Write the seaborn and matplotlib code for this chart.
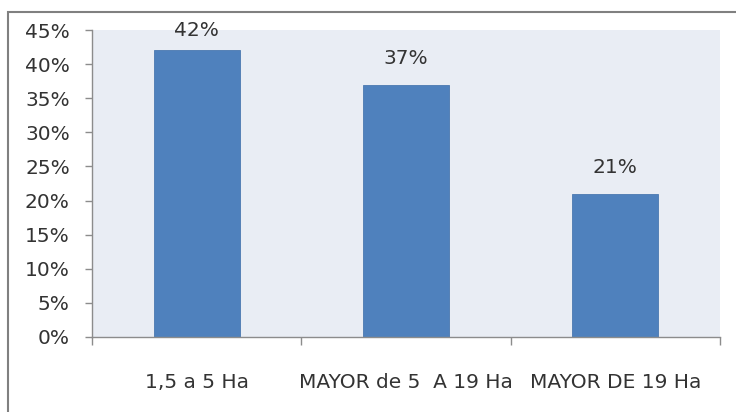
import matplotlib
matplotlib.use("Agg")
import matplotlib.pyplot as plt
import seaborn as sns
import pandas as pd
from matplotlib.patches import Rectangle

categories = ["1,5 a 5 Ha", "MAYOR de 5  A 19 Ha", "MAYOR DE 19 Ha"]
values = [42, 37, 21]
y_ticks = [0, 5, 10, 15, 20, 25, 30, 35, 40, 45]

df = pd.DataFrame({"categoria": categories, "porcentaje": values})

sns.set_theme(style="white")
plt.rcParams["font.family"] = ["DejaVu Sans"]

BAR = "#4f81bd"
PLOT_BG = "#e9edf4"
AXIS = "#8c8c8c"
TEXT = "#333333"
FS = 14.5

fig = plt.figure(figsize=(7.36, 4.12), dpi=100)
fig.patch.set_facecolor("white")
ax = fig.add_axes([92 / 736, 1 - 337 / 412, (720 - 92) / 736, (337 - 30) / 412])
ax.set_facecolor(PLOT_BG)

sns.barplot(data=df, x="categoria", y="porcentaje", color=BAR, width=0.41,
            saturation=1, ax=ax, edgecolor="#4a78b0", linewidth=0.6)

ax.set_xlim(-0.5, len(categories) - 0.5)
ax.set_ylim(0, 45)
ax.set_yticks(y_ticks)
ax.set_yticklabels([f"{t}%" for t in y_ticks])

# category boundaries carry the tick marks, labels sit centred without ticks
ax.set_xticks([i - 0.5 for i in range(len(categories) + 1)], minor=True)
ax.tick_params(axis="x", which="minor", length=6, width=1, color=AXIS, direction="out", bottom=True)
ax.tick_params(axis="x", which="major", length=0, pad=26, labelsize=FS, labelcolor=TEXT)
ax.tick_params(axis="y", which="major", length=5, width=1, color=AXIS, direction="out",
               left=True, pad=11, labelsize=FS, labelcolor=TEXT)
ax.set_xlabel("")
ax.set_ylabel("")

for side in ["top", "right"]:
    ax.spines[side].set_visible(False)
for side in ["left", "bottom"]:
    ax.spines[side].set_color(AXIS)
    ax.spines[side].set_linewidth(1)

# value labels above each bar, kept inside the plot area
for i, v in enumerate(values):
    y = min(v + 2.5, 43.5)
    ax.text(i, y, f"{v}%", ha="center", va="bottom", fontsize=FS, color=TEXT)

# chart frame
fig.patches.append(Rectangle((8 / 736, -0.05), 1.0, 1 - 12 / 412 + 0.05,
                             transform=fig.transFigure, fill=False,
                             edgecolor="#808080", linewidth=1.5, clip_on=False))

fig.savefig("out.png", dpi=100)
